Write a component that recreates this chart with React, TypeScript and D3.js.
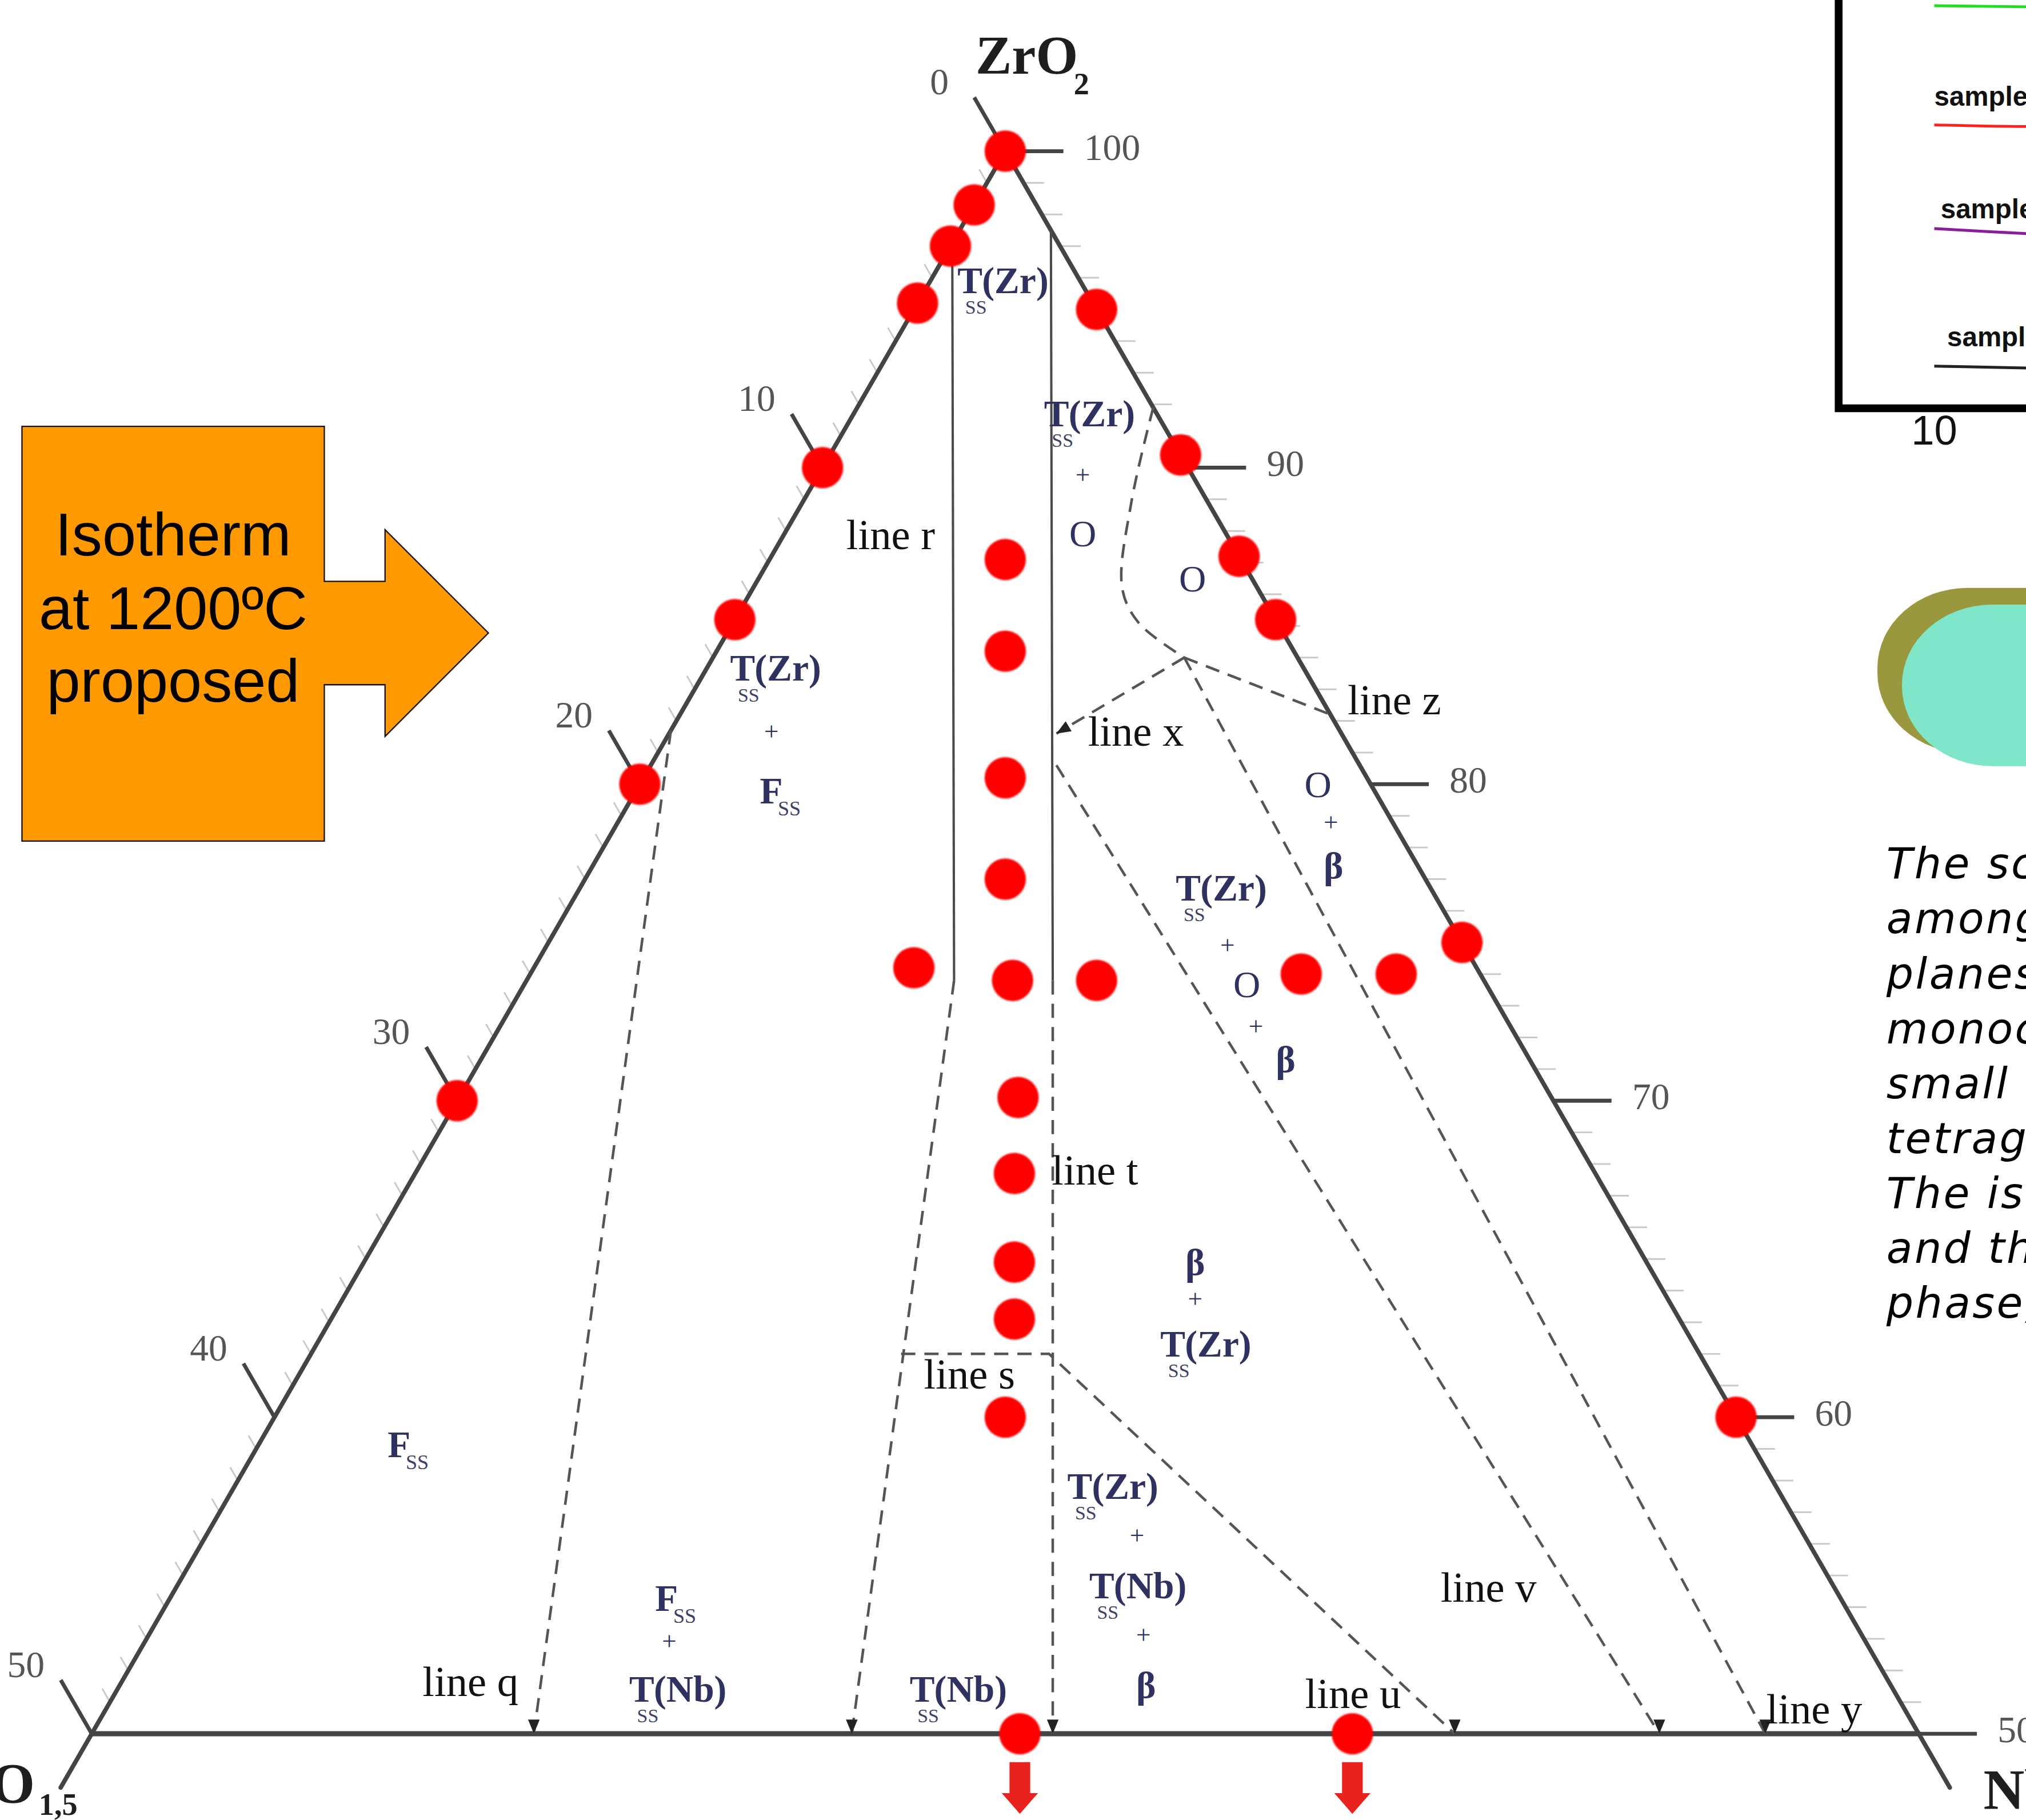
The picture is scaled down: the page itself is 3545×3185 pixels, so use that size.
import React from "react";
import * as d3 from "d3";

// Page size and the drawing unit (layout below is laid out on a 1568-wide grid)
const WIDTH = 3545;
const HEIGHT = 3185;
const UNIT = WIDTH / 1568;

// Ternary axes (mol %), ZrO2-rich half of the ZrO2–YO1.5–NbO2.5 system
const zrAxisTicks = [100, 90, 80, 70, 60, 50];
const yoAxisTicks = [0, 10, 20, 30, 40, 50];

// Samples on the ZrO2–YO1.5 binary (ZrO2 %)
const zrYoEdgeZr = [100, 98.3, 97.0, 95.2, 90, 85.2, 80, 70];
// Samples on the ZrO2–NbO2.5 binary (ZrO2 %)
const zrNbEdgeZr = [95, 90.4, 87.2, 85.2, 75, 60];
// Ternary samples: ZrO2 % and NbO2.5 %
const innerZr = [87.1, 84.2, 80.2, 77.0, 74.2, 73.8, 73.8, 74.0, 74.0, 70.1, 67.7, 64.9, 63.1, 60.0];
const innerNb = [6.45, 7.9, 9.9, 11.5, 10.4, 13.3, 15.6, 21.1, 23.7, 15.3, 16.4, 17.8, 18.7, 20.0];
// Samples on the 50 % ZrO2 section (NbO2.5 %), marked with arrows
const baseNb = [25.4, 34.5];

type Comp = [number, number]; // [ZrO2, NbO2.5]

// Phase boundaries
const lineR: Comp[] = [[97.1, 0], [73.8, 11.7]];
const lineT: Comp[] = [[97.5, 2.5], [73.8, 14.4]];
const lineQ: Comp[] = [[81.7, 0], [50, 12.1]];
const lineRLower: Comp[] = [[73.8, 11.7], [50, 20.8]];
const lineTLower: Comp[] = [[73.8, 14.4], [50, 26.3]];
const lineSU: Comp[] = [[62.0, 16.15], [62.0, 20.2], [50, 37.3]];
const lineV: Comp[] = [[80.6, 11.1], [50, 42.9]];
const lineY: Comp[] = [[84.0, 12.9], [50, 45.8]];
const lineZ: Comp[] = [[84.0, 12.9], [82.2, 17.8]];
const lineX: Comp[] = [[84.0, 12.9], [81.6, 10.6]];
const orthoBoundary: Comp[] = [[91.9, 8.1], [88.9, 9.0], [86.2, 10.1], [85.1, 11.1], [84.0, 12.9]];

// Inset spectra (relative intensity)
const insetX = [10, 10.4, 10.8, 11.2];
const greenSeries = [98.6, 98.3, 98.2, 98.1];
const redSeries = [69.4, 69.0, 69.0, 68.9];
const purpleSeries = [44.0, 42.6, 41.2, 40.4];
const blackSeries = [10.3, 9.8, 9.2, 8.9];
const sampleLabels = ["sample", "sample", "sample"];

const noteLines = [
  "The scattering",
  "among the",
  "planes of",
  "monoclinic",
  "small amount",
  "tetragonal",
  "The isotherm",
  "and the",
  "phase, the",
];

const SERIF = "'Liberation Serif', 'DejaVu Serif', serif";
const SANS = "'Liberation Sans', Arial, sans-serif";
const NAVY = "#2f3160";
const AXIS = "#444";

function Tss({ x, y, el }: { x: number; y: number; el: string }) {
  return (
    <g transform={`translate(${x},${y})`} fill={NAVY} fontFamily={SERIF} fontSize={29}>
      <text fontWeight="bold">T</text>
      <text x={6} y={16} fontSize={15} fill="#3d4066">SS</text>
      <text x={19} fontWeight="bold">({el})</text>
    </g>
  );
}

function Fss({ x, y }: { x: number; y: number }) {
  return (
    <g transform={`translate(${x},${y})`} fill={NAVY} fontFamily={SERIF}>
      <text fontSize={29} fontWeight="bold">F</text>
      <text x={14} y={9} fontSize={16} fill="#3d4066">SS</text>
    </g>
  );
}

function Sym({ x, y, s, size = 29, bold = true }: { x: number; y: number; s: string; size?: number; bold?: boolean }) {
  return (
    <text x={x} y={y} textAnchor="middle" fill={NAVY} fontFamily={SERIF} fontSize={size} fontWeight={bold ? "bold" : "normal"}>
      {s}
    </text>
  );
}

function Plus({ x, y }: { x: number; y: number }) {
  return <Sym x={x} y={y} s="+" size={20} bold={false} />;
}

export default function App() {
  // ZrO2 content sets the height, (NbO2.5 − YO1.5) sets the horizontal position
  const zrScale = d3.scaleLinear().domain([100, 50]).range([117, 1342]);
  const diffScale = d3.scaleLinear().domain([-50, 50]).range([71, 1485]);
  const pt = (zr: number, nb: number): [number, number] => {
    const yo = 100 - zr - nb;
    return [diffScale(nb - yo), zrScale(zr)];
  };
  const path = d3
    .line<Comp>()
    .x((d) => pt(d[0], d[1])[0])
    .y((d) => pt(d[0], d[1])[1]);
  const curved = d3
    .line<Comp>()
    .x((d) => pt(d[0], d[1])[0])
    .y((d) => pt(d[0], d[1])[1])
    .curve(d3.curveCatmullRom.alpha(0.5));

  const apex = pt(100, 0);
  const bl = pt(50, 0);
  const br = pt(50, 50);
  const blExt = pt(48.3, 0);
  const brExt = pt(48.3, 51.7);

  // tick direction on the YO1.5 side runs parallel to the NbO2.5 side
  const tdx = -Math.cos(Math.PI / 3);
  const tdy = -Math.sin(Math.PI / 3);

  const minorY = d3.range(1, 50).filter((v) => v % 10 !== 0);
  const minorZr = d3.range(51, 100).filter((v) => v % 10 !== 0);

  const dashed = [lineQ, lineRLower, lineTLower, lineSU, lineV, lineY, lineZ, lineX];
  const baseArrows = [lineQ, lineRLower, lineTLower, lineSU, lineV, lineY].map((l) => l[l.length - 1]);

  const xStart = pt(lineX[0][0], lineX[0][1]);
  const xEnd = pt(lineX[1][0], lineX[1][1]);
  const xAng = (Math.atan2(xEnd[1] - xStart[1], xEnd[0] - xStart[0]) * 180) / Math.PI;

  // inset scales
  const insetXScale = d3.scaleLinear().domain([10, 11]).range([1497, 1700]);
  const insetYScale = d3.scaleLinear().domain([0, 100]).range([316, 0]);
  const insetLine = d3
    .line<number>()
    .x((_, i) => insetXScale(insetX[i]))
    .y((d) => insetYScale(d))
    .curve(d3.curveMonotoneX);
  const insetSeries = [
    { v: greenSeries, c: "#22dd22" },
    { v: redSeries, c: "#ff2020" },
    { v: purpleSeries, c: "#8a1e9a" },
    { v: blackSeries, c: "#222" },
  ];

  return (
    <svg
      width={WIDTH}
      height={HEIGHT}
      viewBox={`0 0 ${WIDTH} ${HEIGHT}`}
      style={{ position: "absolute", left: 0, top: 0, display: "block", background: "#fff" }}
    >
      <defs>
        <filter id="soft" x="-20%" y="-20%" width="140%" height="140%">
          <feGaussianBlur stdDeviation="0.7" />
        </filter>
      </defs>
      <rect width={WIDTH} height={HEIGHT} fill="#fff" />
      <g transform={`scale(${UNIT})`}>
        {/* minor ticks */}
        <g stroke="#c9c9c9" strokeWidth={1.3}>
          {minorY.map((v) => {
            const [x, y] = pt(100 - v, 0);
            return <line key={`ly${v}`} x1={x} y1={y} x2={x + tdx * 12} y2={y + tdy * 12} />;
          })}
          {minorZr.map((v) => {
            const [x, y] = pt(v, 100 - v);
            return <line key={`rz${v}`} x1={x} y1={y} x2={x + 16} y2={y} />;
          })}
        </g>

        {/* major ticks and labels */}
        <g stroke={AXIS} strokeWidth={3}>
          {yoAxisTicks.map((v) => {
            const [x, y] = pt(100 - v, 0);
            return <line key={`lt${v}`} x1={x} y1={y} x2={x + tdx * 48} y2={y + tdy * 48} />;
          })}
          {zrAxisTicks.map((v) => {
            const [x, y] = pt(v, 100 - v);
            return <line key={`rt${v}`} x1={x} y1={y} x2={x + 45} y2={y} />;
          })}
        </g>
        <g fill="#555" fontFamily={SERIF} fontSize={29}>
          {yoAxisTicks.map((v) => {
            const [x, y] = pt(100 - v, 0);
            return (
              <text key={`ll${v}`} x={x + tdx * 48 - 27} y={y + tdy * 48 - 9} textAnchor="middle" dominantBaseline="middle">
                {v}
              </text>
            );
          })}
          {zrAxisTicks.map((v) => {
            const [x, y] = pt(v, 100 - v);
            return (
              <text key={`rl${v}`} x={x + 45 + 16} y={y} dominantBaseline="middle">
                {v}
              </text>
            );
          })}
        </g>

        {/* triangle frame */}
        <g stroke={AXIS} strokeWidth={3.4} fill="none" strokeLinecap="round">
          <line x1={apex[0]} y1={apex[1]} x2={blExt[0]} y2={blExt[1]} />
          <line x1={apex[0]} y1={apex[1]} x2={brExt[0]} y2={brExt[1]} />
          <line x1={bl[0]} y1={bl[1]} x2={br[0]} y2={br[1]} strokeWidth={4} />
        </g>

        {/* solid phase boundaries */}
        <g stroke="#4a4a4a" strokeWidth={1.8} fill="none">
          <path d={path(lineR) || ""} />
          <path d={path(lineT) || ""} />
        </g>

        {/* dashed phase boundaries */}
        <g stroke="#555" strokeWidth={2} fill="none" strokeDasharray="11 7">
          {dashed.map((l, i) => (
            <path key={i} d={path(l) || ""} />
          ))}
          <path d={curved(orthoBoundary) || ""} />
        </g>

        {/* arrowheads */}
        <g fill="#222">
          {baseArrows.map((c, i) => {
            const [x, y] = pt(c[0], c[1]);
            return <path key={i} d={`M${x - 4.5},${y - 11}L${x + 4.5},${y - 11}L${x},${y}Z`} />;
          })}
          <path
            transform={`translate(${xEnd[0]},${xEnd[1]}) rotate(${xAng})`}
            d="M0,0L-11,-4.5L-11,4.5Z"
          />
        </g>

        {/* samples */}
        <g fill="#ff0000" filter="url(#soft)">
          {zrYoEdgeZr.map((z, i) => {
            const [x, y] = pt(z, 0);
            return <circle key={`a${i}`} cx={x} cy={y} r={16} />;
          })}
          {zrNbEdgeZr.map((z, i) => {
            const [x, y] = pt(z, 100 - z);
            return <circle key={`b${i}`} cx={x} cy={y} r={16} />;
          })}
          {innerZr.map((z, i) => {
            const [x, y] = pt(z, innerNb[i]);
            return <circle key={`c${i}`} cx={x} cy={y} r={16} />;
          })}
          {baseNb.map((n, i) => {
            const [x, y] = pt(50, n);
            return <circle key={`d${i}`} cx={x} cy={y} r={16} />;
          })}
        </g>
        <g fill="#e8221e">
          {baseNb.map((n, i) => {
            const [x, y] = pt(50, n);
            const t = y + 22;
            return (
              <path
                key={`ar${i}`}
                d={`M${x - 8},${t}L${x + 8},${t}L${x + 8},${t + 24}L${x + 14},${t + 24}L${x},${t + 40}L${x - 14},${t + 24}L${x - 8},${t + 24}Z`}
              />
            );
          })}
        </g>

        {/* component labels */}
        <g fontFamily={SERIF} fontWeight="bold" fill="#1e1e1e">
          <text x={755} y={57} fontSize={42}>ZrO</text>
          <text x={831} y={73} fontSize={24}>2</text>
          <text x={27} y={1395} fontSize={44} textAnchor="end">YO</text>
          <text x={30} y={1405} fontSize={24}>1,5</text>
          <text x={1535} y={1400} fontSize={44}>NbO</text>
        </g>

        {/* phase fields */}
        <Tss x={741} y={227} el="Zr" />
        <Tss x={808} y={330} el="Zr" />
        <Plus x={838} y={374} />
        <Sym x={838} y={423} s="O" bold={false} />
        <Sym x={923} y={458} s="O" bold={false} />
        <Tss x={565} y={527} el="Zr" />
        <Plus x={597} y={573} />
        <Fss x={588} y={622} />
        <Sym x={1020} y={617} s="O" bold={false} />
        <Plus x={1030} y={643} />
        <Sym x={1032} y={680} s="β" />
        <Tss x={910} y={697} el="Zr" />
        <Plus x={950} y={738} />
        <Sym x={965} y={772} s="O" bold={false} />
        <Plus x={972} y={801} />
        <Sym x={995} y={830} s="β" />
        <Sym x={925} y={987} s="β" />
        <Plus x={925} y={1012} />
        <Tss x={898} y={1050} el="Zr" />
        <Fss x={300} y={1128} />
        <Tss x={826} y={1160} el="Zr" />
        <Plus x={880} y={1195} />
        <Tss x={843} y={1237} el="Nb" />
        <Plus x={885} y={1272} />
        <Sym x={887} y={1314} s="β" />
        <Fss x={507} y={1247} />
        <Plus x={518} y={1277} />
        <Tss x={487} y={1317} el="Nb" />
        <Tss x={704} y={1317} el="Nb" />

        {/* boundary names */}
        <g fontFamily={SERIF} fontSize={33} fill="#111">
          <text x={655} y={425}>line r</text>
          <text x={842} y={577}>line x</text>
          <text x={1043} y={553}>line z</text>
          <text x={814} y={917}>line t</text>
          <text x={715} y={1075}>line s</text>
          <text x={327} y={1313}>line q</text>
          <text x={1010} y={1322}>line u</text>
          <text x={1115} y={1240}>line v</text>
          <text x={1367} y={1334}>line y</text>
        </g>

        {/* callout arrow */}
        <path
          d="M17,330L251,330L251,450L298,450L298,410L378,490L298,570L298,530L251,530L251,651L17,651Z"
          fill="#ff9900"
          stroke="#111"
          strokeWidth={1}
        />
        <g fontFamily={SANS} fontSize={47} fill="#000" textAnchor="middle">
          <text x={134} y={430}>Isotherm</text>
          <text x={134} y={487}>at 1200ºC</text>
          <text x={134} y={543}>proposed</text>
        </g>

        {/* inset spectra */}
        <g fill="none" strokeWidth={2.2}>
          {insetSeries.map((s, i) => (
            <path key={i} d={insetLine(s.v) || ""} stroke={s.c} />
          ))}
        </g>
        <g fontFamily={SANS} fontWeight="bold" fontSize={21} fill="#111">
          {sampleLabels.map((s, i) => (
            <text key={i} x={1497 + i * 5} y={[82, 169, 268][i]}>
              {s}
            </text>
          ))}
        </g>
        <path d="M1423,0L1423,316L1580,316" fill="none" stroke="#000" strokeWidth={6} />
        <text x={1497} y={344} fontFamily={SANS} fontSize={32} textAnchor="middle" fill="#111">
          10
        </text>

        {/* rounded badge */}
        <rect x={1453} y={455} width={260} height={128} rx={70} ry={62} fill="#9a983f" />
        <rect x={1472} y={468} width={260} height={125} rx={70} ry={62} fill="#7fe6c9" />

        {/* note text */}
        <g fontFamily="'DejaVu Sans', sans-serif" fontStyle="italic" fontSize={33} fill="#000">
          {noteLines.map((s, i) => (
            <text key={i} x={1460} y={680 + i * 42.5} letterSpacing={1.5}>
              {s}
            </text>
          ))}
        </g>
      </g>
    </svg>
  );
}
